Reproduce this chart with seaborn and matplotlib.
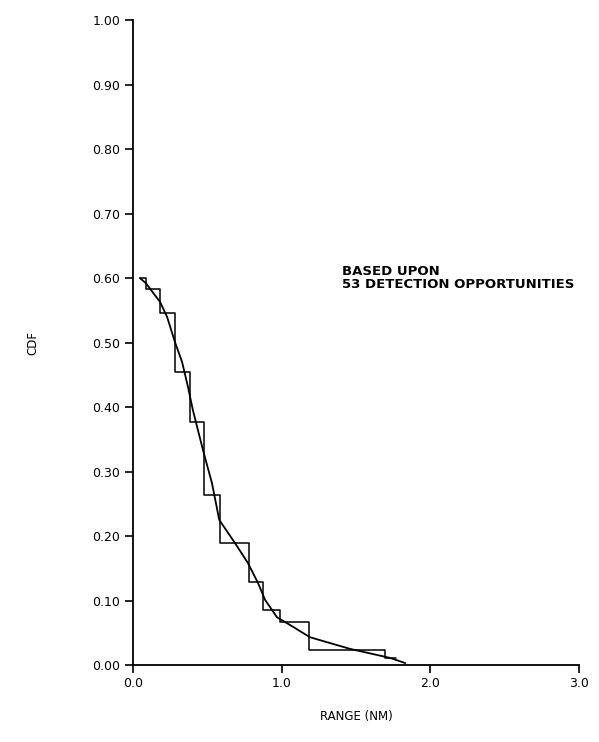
import numpy as np
import pandas as pd
import matplotlib
matplotlib.use("Agg")
import matplotlib.pyplot as plt
import seaborn as sns

step_range = [0.05, 0.09, 0.18, 0.28, 0.38, 0.48, 0.585, 0.78, 0.877, 0.989, 1.186, 1.695, 1.77]
step_cdf = [0.600, 0.583, 0.546, 0.454, 0.377, 0.264, 0.189, 0.128, 0.086, 0.067, 0.024, 0.011, 0.011]

# fitted smooth curve
fit_range = [0.047, 0.087, 0.182, 0.229, 0.282, 0.330, 0.370, 0.403, 0.437, 0.471, 0.531, 0.580,
             0.686, 0.773, 0.841, 0.888, 0.968, 1.056, 1.190, 1.459, 1.728, 1.83]
fit_cdf = [0.600, 0.592, 0.563, 0.540, 0.501, 0.470, 0.431, 0.395, 0.364, 0.333, 0.282, 0.225,
           0.189, 0.158, 0.127, 0.101, 0.074, 0.062, 0.043, 0.025, 0.011, 0.003]

y_ticks = [0.0, 0.1, 0.2, 0.3, 0.4, 0.5, 0.6, 0.7, 0.8, 0.9, 1.0]
x_ticks = [0.0, 1.0, 2.0, 3.0]
note = "BASED UPON\n53 DETECTION OPPORTUNITIES"

sns.set_style("ticks")
plt.rcParams['font.family'] = ['DejaVu Sans']
plt.rcParams['text.color'] = 'black'
plt.rcParams['axes.labelcolor'] = 'black'
plt.rcParams['xtick.color'] = 'black'
plt.rcParams['ytick.color'] = 'black'

fig = plt.figure(figsize=(5.99, 7.42), dpi=100)
ax = fig.add_axes([0.222, 0.1038, 0.745, 0.869])

step_df = pd.DataFrame({"x": step_range, "y": step_cdf})
fit_df = pd.DataFrame({"x": fit_range, "y": fit_cdf})

sns.lineplot(data=step_df, x="x", y="y", ax=ax, color="black", lw=1.1,
             drawstyle="steps-post", sort=False, estimator=None)
sns.lineplot(data=fit_df, x="x", y="y", ax=ax, color="black", lw=1.3,
             sort=False, estimator=None)

ax.set_xlim(0, 3.0)
ax.set_ylim(0, 1.0)
ax.set_xticks(x_ticks)
ax.set_xticklabels(["%.1f" % v for v in x_ticks])
ax.set_yticks(y_ticks)
ax.set_yticklabels(["%.2f" % v for v in y_ticks])
ax.tick_params(axis="both", direction="out", length=6, width=1.2, labelsize=9,
               pad=3, colors="black")
for s in ["left", "bottom"]:
    ax.spines[s].set_linewidth(1.3)
    ax.spines[s].set_color("black")
sns.despine(ax=ax)

ax.set_xlabel("RANGE (NM)", fontsize=8.5, labelpad=14)
ax.set_ylabel("CDF", fontsize=8.5, labelpad=38)

ax.text(1.405, 0.60, note, fontsize=9.5, fontweight="bold", ha="left", va="center",
        linespacing=1.0, color="black")

fig.savefig("out.png", dpi=100)
